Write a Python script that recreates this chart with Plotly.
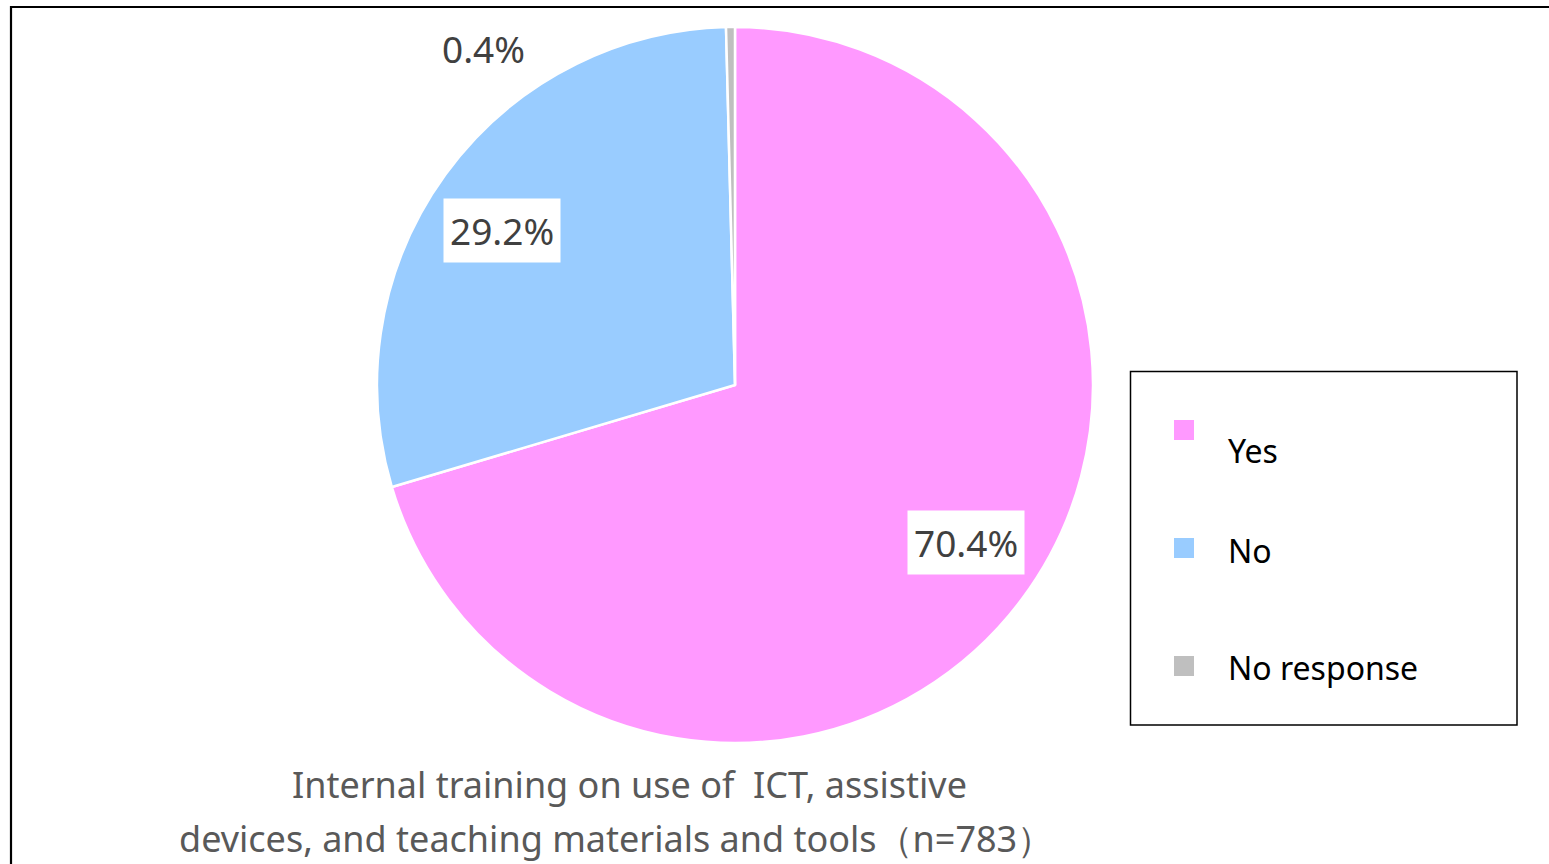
import math
import plotly.graph_objects as go

# ---- data ----
categories = ["Yes", "No", "No response"]
values = [70.4, 29.2, 0.4]
label_texts = ["70.4%", "29.2%", "0.4%"]
colors = ["#FF99FF", "#99CCFF", "#BFBFBF"]
title_lines = ["Internal training on use of  ICT, assistive",
               "devices, and teaching materials and tools（n=783）"]

W, H = 1549, 864


def px(x):
    return x / W


def py(y):
    return 1 - y / H


cx, cy, R = 735, 385, 358  # pixel geometry of the pie

dom_x = [px(cx - R), px(cx + R)]
dom_y = [py(cy + R), py(cy - R)]

fig = go.Figure(go.Pie(
    labels=categories, values=values, sort=False, direction="clockwise", rotation=0,
    marker=dict(colors=colors, line=dict(color="white", width=2.5)),
    textinfo="none", hoverinfo="label+percent", showlegend=False,
    domain=dict(x=dom_x, y=dom_y),
))

FONT = "Noto Sans"
annotations = []
shapes = []


def ann(x, y, text, size, color, xanchor="center", **kw):
    d = dict(x=px(x), y=py(y), xref="paper", yref="paper", text=text, showarrow=False,
             xanchor=xanchor, yanchor="middle",
             font=dict(family=FONT, size=size, color=color))
    d.update(kw)
    annotations.append(d)


# slice labels placed at slice mid-angles
total = sum(values)
cum = 0
for i, v in enumerate(values):
    mid = (cum + v / 2) / total * 2 * math.pi - math.radians(2.5)
    cum += v
    if i < 2:
        r = 0.78 * R
        lx = cx + r * math.sin(mid)
        ly = cy - r * math.cos(mid)
        ann(lx, ly, label_texts[i], 37, "#404040", bgcolor="white", borderpad=6)
    else:
        ann(483, 48, label_texts[i], 37, "#404040")

# title
ann(629, 784, title_lines[0], 36, "#595959")
ann(616, 838, title_lines[1], 36, "#595959")

# manual legend
shapes.append(dict(type="rect", xref="paper", yref="paper",
                   x0=px(1130.5), x1=px(1517), y0=py(725), y1=py(371.5),
                   line=dict(color="black", width=1.5), fillcolor="rgba(0,0,0,0)"))
marker_y = [430, 548, 666]
text_y = [450, 550, 667]
for i, cat in enumerate(categories):
    shapes.append(dict(type="rect", xref="paper", yref="paper",
                       x0=px(1174), x1=px(1194),
                       y0=py(marker_y[i] + 10), y1=py(marker_y[i] - 10),
                       line=dict(width=0), fillcolor=colors[i]))
    ann(1226, text_y[i], cat, 32, "black", xanchor="left")

# outer frame (extends beyond right/bottom)
shapes.append(dict(type="rect", xref="paper", yref="paper",
                   x0=px(11), x1=1.05, y0=-0.05, y1=py(7),
                   line=dict(color="black", width=2.2), fillcolor="rgba(0,0,0,0)"))

fig.update_layout(
    width=W, height=H, margin=dict(l=0, r=0, t=0, b=0),
    paper_bgcolor="white", plot_bgcolor="white",
    annotations=annotations, shapes=shapes, showlegend=False,
)

fig.write_html("out.html", config={"displayModeBar": False},
               post_script="document.body.style.margin='0';")
